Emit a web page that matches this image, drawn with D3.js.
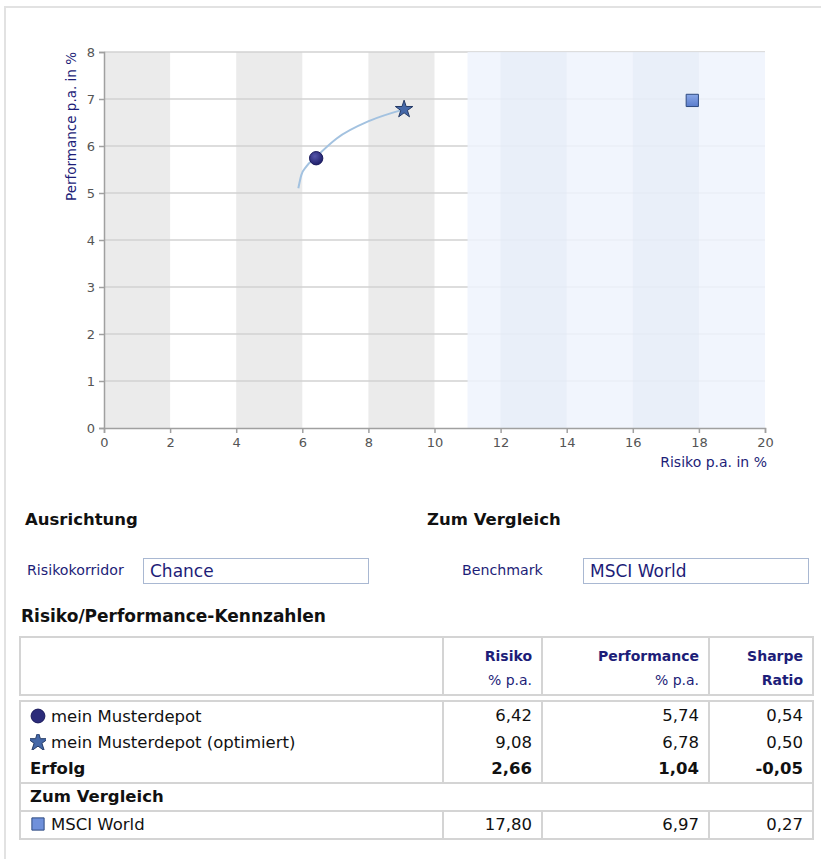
<!DOCTYPE html>
<html>
<head>
<meta charset="utf-8">
<script src="https://cdn.jsdelivr.net/npm/d3@7"></script>
<style>
body { margin: 0; background: #fff; font-family: "DejaVu Sans", sans-serif; }
#frame { position: absolute; left: 4px; top: 6px; width: 900px; height: 900px; border-left: 2px solid #e2e2e2; border-top: 2px solid #e2e2e2; }
#chart { position: absolute; left: 0; top: 0; }
.abs { position: absolute; white-space: nowrap; }
.head { font-weight: bold; font-size: 16.5px; color: #111; }
.lbl { font-size: 14.2px; color: #1d1d78; }
.box { border: 1px solid #a9b8d2; height: 26px; line-height: 25px; font-size: 17px; color: #1d1d78; padding-left: 6px; box-sizing: border-box; }
table { position: absolute; border-collapse: collapse; left: 19px; width: 793px; table-layout: fixed; }
td { border: 2px solid #d4d4d4; padding: 0 9px 0 9px; font-size: 16.5px; color: #111; white-space: nowrap; }
td.num { text-align: right; }
.hdr td { height: 50px; text-align: right; font-size: 14px; color: #1d1d78; line-height: 24px; vertical-align: top; padding-top: 6px; }
.body td { height: 26px; border-top: none; border-bottom: none; line-height: 20px; }
.body tr.sep td { border-top: 2px solid #d4d4d4; border-bottom: 2px solid #d4d4d4; }
.body td.bold { font-weight: bold; }
</style>
</head>
<body>
<div id="frame"></div>
<svg id="chart" width="821" height="480"></svg>
<div id="panel"></div>
<script>
// axis ranges
const xDomain = [0, 20];
const yDomain = [0, 8];
const xTickValues = [0, 2, 4, 6, 8, 10, 12, 14, 16, 18, 20];
const yTickValues = [0, 1, 2, 3, 4, 5, 6, 7, 8];

// background bands (risk ranges)
const grayBands = [[0, 2], [4, 6], [8, 10]];
const corridor = [11, 20];
const corridorBands = [[12, 14], [16, 18]];

// efficient frontier
const frontierRisk = [5.88, 5.97, 6.12, 6.42, 7.04, 8.05, 9.08];
const frontierPerf = [5.10, 5.38, 5.56, 5.77, 6.16, 6.54, 6.78];

// portfolios
const names = ["mein Musterdepot", "mein Musterdepot (optimiert)", "MSCI World"];
const symbols = ["circle", "star", "square"];
const risk = [6.42, 9.08, 17.80];
const performance = [5.74, 6.78, 6.97];
const sharpe = [0.54, 0.50, 0.27];
const success = ["2,66", "1,04", "-0,05"];

const margin = { top: 52, left: 104, right: 56, bottom: 52 };
const width = 821 - margin.left - margin.right;
const height = 428 - margin.top;

const svg = d3.select("#chart");
const defs = svg.append("defs");
const rg = defs.append("radialGradient").attr("id", "gCircle").attr("cx", "40%").attr("cy", "35%").attr("r", "65%");
rg.append("stop").attr("offset", "0%").attr("stop-color", "#5555aa");
rg.append("stop").attr("offset", "100%").attr("stop-color", "#1f1f6a");
const sg = defs.append("linearGradient").attr("id", "gSquare").attr("x1", 0).attr("y1", 0).attr("x2", 0).attr("y2", 1);
sg.append("stop").attr("offset", "0%").attr("stop-color", "#8aa8e8");
sg.append("stop").attr("offset", "100%").attr("stop-color", "#5a7ccc");

const x = d3.scaleLinear().domain(xDomain).range([0, width]);
const y = d3.scaleLinear().domain(yDomain).range([height, 0]);

const g = svg.append("g").attr("transform", `translate(${margin.left},${margin.top})`);

g.selectAll(".gband").data(grayBands).enter().append("rect")
    .attr("x", d => x(d[0])).attr("width", d => x(d[1]) - x(d[0]))
    .attr("y", 0).attr("height", height).attr("fill", "#ebebeb");

// gridlines
g.selectAll(".grid").data(yTickValues.slice(1)).enter().append("line")
    .attr("x1", 0).attr("x2", width)
    .attr("y1", d => y(d)).attr("y2", d => y(d))
    .attr("stroke", "#d2d2d2").attr("stroke-width", 1.5);

// risk corridor
g.append("rect")
    .attr("x", x(corridor[0])).attr("width", x(corridor[1]) - x(corridor[0]))
    .attr("y", 0).attr("height", height).attr("fill", "#eef3fd").attr("fill-opacity", 0.85);
g.selectAll(".cband").data(corridorBands).enter().append("rect")
    .attr("x", d => x(d[0])).attr("width", d => x(d[1]) - x(d[0]))
    .attr("y", 0).attr("height", height).attr("fill", "#dfe5f2").attr("fill-opacity", 0.4);

// axes
const yAxis = g.append("g").call(d3.axisLeft(y).tickValues(yTickValues).tickSize(5).tickPadding(4));
const xAxis = g.append("g").attr("transform", `translate(0,${height})`)
    .call(d3.axisBottom(x).tickValues(xTickValues).tickSize(5).tickPadding(5));
[xAxis, yAxis].forEach(a => {
    a.selectAll("path,line").attr("stroke", "#a0a0a0").attr("stroke-width", 1.5);
    a.selectAll("text").attr("fill", "#555").style("font-family", "DejaVu Sans").style("font-size", "13px");
});

g.append("text")
    .attr("transform", `translate(-33,0) rotate(-90)`)
    .attr("text-anchor", "end").attr("dy", "0.35em")
    .style("font-family", "DejaVu Sans").style("font-size", "13.5px")
    .attr("fill", "#1d1d78").text("Performance p.a. in %");
g.append("text")
    .attr("x", width + 2).attr("y", height + 39)
    .attr("text-anchor", "end")
    .style("font-family", "DejaVu Sans").style("font-size", "14px")
    .attr("fill", "#1d1d78").text("Risiko p.a. in %");

// frontier curve
const line = d3.line().x(d => x(d[0])).y(d => y(d[1])).curve(d3.curveMonotoneX);
g.append("path")
    .datum(frontierRisk.map((r, i) => [r, frontierPerf[i]]))
    .attr("d", line).attr("fill", "none").attr("stroke", "#a3c2e0").attr("stroke-width", 2);

// markers
const symType = { circle: d3.symbolCircle, star: d3.symbolStar, square: d3.symbolSquare };
const symSize = { circle: 140, star: 95, square: 150 };
const symFill = { circle: "url(#gCircle)", star: "#4568a8", square: "url(#gSquare)" };
const iconFill = { circle: "#2b2b7a", star: "#4568a8", square: "#6f90da" };
const symStroke = { circle: "#1a1a5c", star: "#243a66", square: "#2e4a80" };
g.selectAll(".pt").data(names).enter().append("path")
    .attr("transform", (d, i) => `translate(${x(risk[i])},${y(performance[i])})`)
    .attr("d", (d, i) => d3.symbol(symType[symbols[i]], symSize[symbols[i]])())
    .attr("fill", (d, i) => symFill[symbols[i]])
    .attr("stroke", (d, i) => symStroke[symbols[i]]).attr("stroke-width", 1);

// form section
const panel = d3.select("#panel");
panel.append("div").attr("class", "abs head").style("left", "25px").style("top", "510px").text("Ausrichtung");
panel.append("div").attr("class", "abs head").style("left", "427px").style("top", "510px").text("Zum Vergleich");
panel.append("div").attr("class", "abs lbl").style("left", "27px").style("top", "562px").text("Risikokorridor");
panel.append("div").attr("class", "abs box").style("left", "143px").style("top", "558px").style("width", "226px").text("Chance");
panel.append("div").attr("class", "abs lbl").style("left", "462px").style("top", "562px").text("Benchmark");
panel.append("div").attr("class", "abs box").style("left", "583px").style("top", "558px").style("width", "226px").text("MSCI World");
panel.append("div").attr("class", "abs head").style("left", "21px").style("top", "606px").style("font-size", "17px")
    .text("Risiko/Performance-Kennzahlen");

const fmt = v => d3.format(".2f")(v).replace(".", ",");
const colW = [423, 99, 167, 104];

// header table
const th = panel.append("table").attr("class", "hdr").style("top", "636px");
th.append("colgroup").selectAll("col").data(colW).enter().append("col").style("width", d => d + "px");
const hr = th.append("tr");
hr.append("td");
[["Risiko", "% p.a."], ["Performance", "% p.a."], ["Sharpe", "<b>Ratio</b>"]].forEach(h => {
    hr.append("td").html(`<b>${h[0]}</b><br>${h[1]}`);
});

// body table
const tb = panel.append("table").attr("class", "body").style("top", "700px");
tb.append("colgroup").selectAll("col").data(colW).enter().append("col").style("width", d => d + "px");

function icon(sel, i) {
    const s = sel.append("svg").attr("width", 16).attr("height", 16)
        .style("vertical-align", "-2px").style("margin-right", "5px");
    s.append("path").attr("transform", "translate(8,8)")
        .attr("d", d3.symbol(symType[symbols[i]], symbols[i] === "star" ? 130 : 150)())
        .attr("fill", iconFill[symbols[i]])
        .attr("stroke", symStroke[symbols[i]]).attr("stroke-width", 1);
}
function row(i) {
    const tr = tb.append("tr");
    const c = tr.append("td");
    icon(c, i);
    c.append("span").text(names[i]);
    [risk[i], performance[i], sharpe[i]].forEach(v => tr.append("td").attr("class", "num").text(fmt(v)));
    return tr;
}
row(0).select("td").style("padding-top", "2px");
row(1);
const er = tb.append("tr");
er.append("td").attr("class", "bold").text("Erfolg");
success.forEach(v => er.append("td").attr("class", "num bold").text(v));
tb.append("tr").attr("class", "sep").append("td").attr("colspan", 4).attr("class", "bold").text("Zum Vergleich");
const last = row(2);
last.selectAll("td").style("border-bottom", "2px solid #d4d4d4");
tb.select("tr").selectAll("td").style("border-top", "2px solid #d4d4d4");
</script>
</body>
</html>
